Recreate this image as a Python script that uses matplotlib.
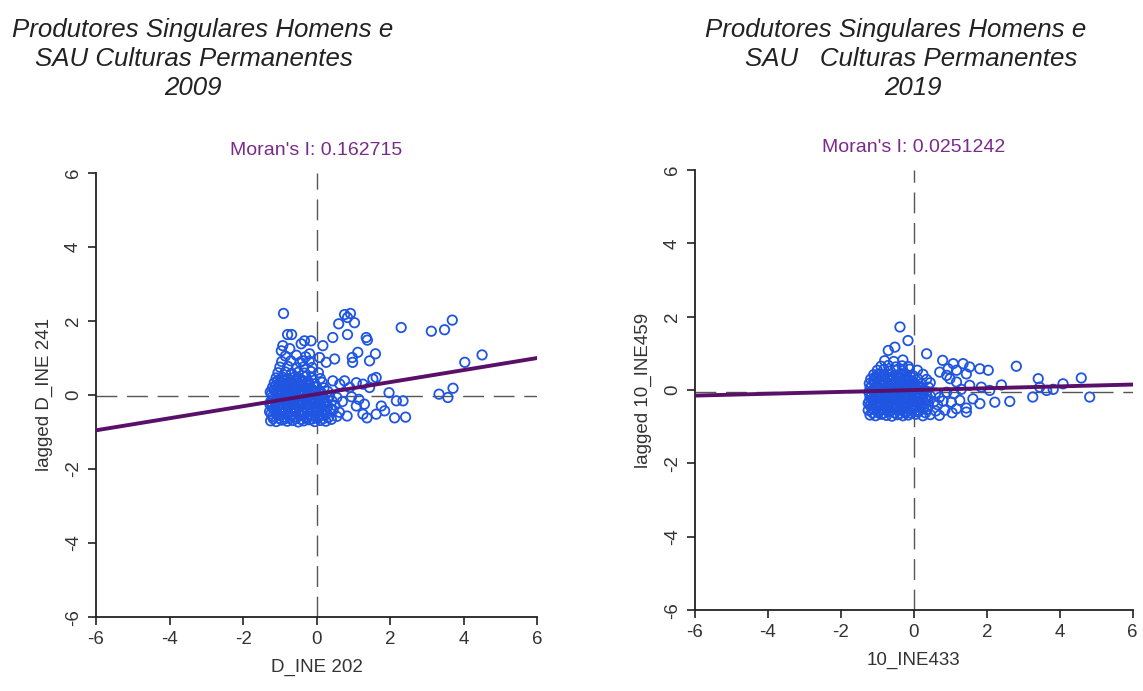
import numpy as np
import matplotlib
matplotlib.use("Agg")
import matplotlib.pyplot as plt

plt.rcParams['font.family'] = ['Liberation Sans', 'DejaVu Sans']
plt.rcParams['axes.unicode_minus'] = False

# Moran scatter data (standardised value, spatial lag)
pts_2009 = [
    # sparse upper points
    (-0.90, 2.20), (0.76, 2.17), (0.92, 2.20), (0.84, 2.09), (1.03, 1.95), (0.60, 1.92),
    (2.30, 1.82), (3.12, 1.72), (3.48, 1.76), (3.69, 2.02),
    (-0.79, 1.63), (-0.68, 1.63), (0.44, 1.55), (0.84, 1.63), (1.35, 1.55), (1.38, 1.48),
    (-0.33, 1.46), (-0.15, 1.46), (-0.42, 1.38), (-0.96, 1.19), (-0.73, 1.25), (-0.92, 1.33),
    (0.17, 1.33), (1.12, 1.15), (1.60, 1.11), (0.97, 1.01), (0.98, 0.88), (1.44, 0.92),
    (0.49, 0.97), (4.03, 0.88), (4.50, 1.08), (-0.19, 1.11), (0.08, 1.01), (0.26, 0.88),
    (-0.38, 0.92),
    # right tail near zero
    (3.33, 0.02), (3.57, -0.07), (3.71, 0.18),
    (2.35, -0.16), (2.12, -0.62), (2.42, -0.60), (1.97, 0.06), (2.17, -0.16), (1.76, -0.30),
    (1.85, -0.43), (1.62, -0.52), (1.37, -0.62), (1.26, -0.52), (1.08, -0.30), (0.83, -0.57),
    (1.53, 0.43), (1.62, 0.47), (1.26, 0.29), (1.08, 0.33), (1.44, 0.20), (0.90, 0.20),
    (0.76, 0.38), (0.63, 0.29), (0.44, 0.38), (1.15, -0.12), (0.95, -0.05), (1.30, -0.25),
    # dense cluster
    (-1.25, -0.70), (-1.10, -0.72), (-0.95, -0.68), (-0.80, -0.71), (-0.65, -0.69), (-0.50, -0.73),
    (-0.35, -0.70), (-0.20, -0.67), (-0.05, -0.72), (0.10, -0.69), (0.25, -0.71), (0.40, -0.66),
    (-1.20, -0.58), (-1.05, -0.55), (-0.90, -0.60), (-0.72, -0.57), (-0.58, -0.59), (-0.42, -0.56),
    (-0.28, -0.60), (-0.12, -0.57), (0.02, -0.58), (0.18, -0.55), (0.33, -0.60), (0.55, -0.58),
    (-1.28, -0.45), (-1.12, -0.43), (-0.98, -0.47), (-0.85, -0.44), (-0.70, -0.46), (-0.55, -0.42),
    (-0.40, -0.45), (-0.25, -0.47), (-0.10, -0.43), (0.05, -0.46), (0.22, -0.44), (0.45, -0.41),
    (0.62, -0.47),
    (-1.22, -0.32), (-1.05, -0.30), (-0.90, -0.34), (-0.75, -0.31), (-0.62, -0.33), (-0.48, -0.29),
    (-0.33, -0.32), (-0.18, -0.35), (-0.03, -0.30), (0.12, -0.33), (0.30, -0.31), (0.50, -0.28),
    (-1.25, -0.18), (-1.10, -0.20), (-0.95, -0.16), (-0.80, -0.19), (-0.66, -0.17), (-0.52, -0.21),
    (-0.38, -0.18), (-0.22, -0.15), (-0.08, -0.19), (0.08, -0.17), (0.25, -0.20), (0.42, -0.16),
    (0.70, -0.18),
    (-1.20, -0.05), (-1.03, -0.03), (-0.88, -0.07), (-0.73, -0.04), (-0.58, -0.06), (-0.43, -0.02),
    (-0.28, -0.05), (-0.14, -0.08), (0.02, -0.04), (0.18, -0.06), (0.35, -0.03), (0.55, -0.07),
    (-1.26, 0.08), (-1.10, 0.10), (-0.95, 0.06), (-0.80, 0.09), (-0.65, 0.07), (-0.50, 0.11),
    (-0.35, 0.08), (-0.20, 0.05), (-0.05, 0.09), (0.12, 0.07), (0.30, 0.10),
    (-1.20, 0.20), (-1.05, 0.22), (-0.90, 0.18), (-0.75, 0.21), (-0.60, 0.19), (-0.45, 0.23),
    (-0.30, 0.20), (-0.15, 0.17), (0.00, 0.21), (0.20, 0.19),
    (-1.15, 0.33), (-0.98, 0.35), (-0.83, 0.31), (-0.68, 0.34), (-0.52, 0.32), (-0.38, 0.36),
    (-0.22, 0.33), (-0.05, 0.30), (0.15, 0.34),
    (-1.10, 0.46), (-0.93, 0.48), (-0.78, 0.44), (-0.62, 0.47), (-0.47, 0.45), (-0.30, 0.49),
    (-0.12, 0.46), (0.10, 0.44),
    (-1.05, 0.60), (-0.85, 0.62), (-0.68, 0.58), (-0.50, 0.61), (-0.33, 0.59), (-0.15, 0.63),
    (0.05, 0.60),
    (-1.00, 0.75), (-0.78, 0.77), (-0.55, 0.73), (-0.35, 0.76), (-0.12, 0.74),
    (-0.95, 0.90), (-0.70, 0.92), (-0.45, 0.88), (-0.20, 0.91),
    (-0.85, 1.05), (-0.55, 1.07), (-0.30, 1.03),
    # core, second layer
    (-1.18, -0.64), (-1.02, -0.63), (-0.87, -0.65), (-0.72, -0.62), (-0.57, -0.64), (-0.42, -0.66),
    (-0.27, -0.63), (-0.12, -0.65), (0.03, -0.62), (0.18, -0.64),
    (-1.24, -0.51), (-1.08, -0.50), (-0.93, -0.52), (-0.78, -0.49), (-0.63, -0.51), (-0.48, -0.53),
    (-0.33, -0.50), (-0.18, -0.52), (-0.03, -0.49), (0.12, -0.51), (0.28, -0.50),
    (-1.16, -0.38), (-1.00, -0.37), (-0.85, -0.39), (-0.70, -0.36), (-0.55, -0.38), (-0.40, -0.40),
    (-0.25, -0.37), (-0.10, -0.39), (0.05, -0.36), (0.20, -0.38), (0.38, -0.37),
    (-1.27, -0.25), (-1.12, -0.24), (-0.97, -0.26), (-0.82, -0.23), (-0.67, -0.25), (-0.52, -0.27),
    (-0.37, -0.24), (-0.22, -0.26), (-0.07, -0.23), (0.08, -0.25), (0.22, -0.24),
    (-1.17, -0.11), (-1.02, -0.10), (-0.87, -0.12), (-0.72, -0.09), (-0.57, -0.11), (-0.42, -0.13),
    (-0.27, -0.10), (-0.12, -0.12), (0.03, -0.09), (0.18, -0.11),
    (-1.23, 0.02), (-1.08, 0.03), (-0.93, 0.01), (-0.78, 0.04), (-0.63, 0.02), (-0.48, 0.00),
    (-0.33, 0.03), (-0.18, 0.01), (-0.03, 0.04), (0.12, 0.02),
    (-1.15, 0.14), (-1.00, 0.15), (-0.85, 0.13), (-0.70, 0.16), (-0.55, 0.14), (-0.40, 0.12),
    (-0.25, 0.15), (-0.10, 0.13),
    (-1.10, 0.27), (-0.95, 0.28), (-0.80, 0.26), (-0.65, 0.29), (-0.50, 0.27), (-0.35, 0.25),
    (-0.20, 0.28),
    (-1.05, 0.40), (-0.88, 0.41), (-0.72, 0.39), (-0.56, 0.42), (-0.40, 0.40), (-0.24, 0.38),
]

pts_2019 = [
    # sparse points
    (-0.38, 1.72), (-0.16, 1.35), (-0.70, 1.08), (-0.52, 1.17), (0.35, 0.99),
    (0.79, 0.81), (1.08, 0.72), (1.35, 0.72), (1.53, 0.63), (1.81, 0.58), (2.04, 0.54),
    (2.81, 0.65), (3.41, 0.31), (4.59, 0.33), (4.82, -0.19), (3.26, -0.19),
    (4.09, 0.17), (3.82, 0.02), (3.64, -0.01), (3.45, 0.08),
    (2.40, 0.14), (2.08, -0.01), (1.85, 0.08), (1.53, 0.13),
    (2.22, -0.33), (2.63, -0.31), (1.81, -0.37), (1.44, -0.49), (1.62, -0.24), (1.26, -0.28),
    (1.17, -0.51), (1.44, -0.60), (1.03, -0.33),
    (1.17, 0.22), (0.99, 0.31), (0.90, 0.40), (0.71, 0.49), (0.94, 0.58), (1.17, 0.54),
    (1.44, 0.44), (1.10, -0.10), (1.30, 0.02), (1.05, -0.62),
    # dense cluster
    (-1.20, -0.68), (-1.05, -0.70), (-0.90, -0.66), (-0.75, -0.69), (-0.60, -0.71), (-0.45, -0.67),
    (-0.30, -0.70), (-0.15, -0.68), (0.05, -0.66), (0.25, -0.70), (0.45, -0.67), (0.70, -0.69),
    (-1.25, -0.55), (-1.10, -0.53), (-0.95, -0.57), (-0.80, -0.54), (-0.65, -0.56), (-0.50, -0.52),
    (-0.35, -0.55), (-0.20, -0.58), (-0.05, -0.54), (0.15, -0.56), (0.35, -0.53), (0.60, -0.57),
    (0.85, -0.55),
    (-1.20, -0.42), (-1.05, -0.44), (-0.90, -0.40), (-0.75, -0.43), (-0.60, -0.41), (-0.45, -0.45),
    (-0.30, -0.42), (-0.15, -0.39), (0.00, -0.43), (0.20, -0.41), (0.40, -0.44), (0.65, -0.40),
    (-1.22, -0.30), (-1.08, -0.28), (-0.93, -0.32), (-0.78, -0.29), (-0.63, -0.31), (-0.48, -0.27),
    (-0.33, -0.30), (-0.18, -0.33), (-0.02, -0.29), (0.18, -0.31), (0.38, -0.28), (0.55, -0.32),
    (0.80, -0.30),
    (-1.20, -0.18), (-1.05, -0.16), (-0.90, -0.20), (-0.75, -0.17), (-0.60, -0.19), (-0.45, -0.15),
    (-0.30, -0.18), (-0.15, -0.21), (0.05, -0.17), (0.25, -0.19), (0.45, -0.16), (0.70, -0.20),
    (-1.23, -0.06), (-1.08, -0.04), (-0.93, -0.08), (-0.78, -0.05), (-0.63, -0.07), (-0.48, -0.03),
    (-0.33, -0.06), (-0.18, -0.09), (-0.02, -0.05), (0.15, -0.07), (0.35, -0.04), (0.60, -0.08),
    (0.90, -0.06),
    (-1.20, 0.06), (-1.05, 0.08), (-0.90, 0.04), (-0.75, 0.07), (-0.60, 0.05), (-0.45, 0.09),
    (-0.30, 0.06), (-0.15, 0.03), (0.02, 0.07), (0.20, 0.05), (0.40, 0.08),
    (-1.22, 0.18), (-1.07, 0.20), (-0.92, 0.16), (-0.77, 0.19), (-0.62, 0.17), (-0.47, 0.21),
    (-0.32, 0.18), (-0.17, 0.15), (0.00, 0.19), (0.20, 0.17), (0.45, 0.20),
    (-1.18, 0.30), (-1.02, 0.32), (-0.87, 0.28), (-0.72, 0.31), (-0.57, 0.29), (-0.42, 0.33),
    (-0.27, 0.30), (-0.10, 0.27), (0.10, 0.31), (0.35, 0.29),
    (-1.10, 0.42), (-0.95, 0.44), (-0.80, 0.40), (-0.65, 0.43), (-0.50, 0.41), (-0.35, 0.45),
    (-0.20, 0.42), (-0.02, 0.39), (0.25, 0.43),
    (-1.00, 0.54), (-0.82, 0.56), (-0.65, 0.52), (-0.48, 0.55), (-0.30, 0.53), (-0.12, 0.57),
    (0.10, 0.54),
    (-0.90, 0.65), (-0.70, 0.67), (-0.50, 0.63), (-0.32, 0.66), (-0.15, 0.64),
    (-0.80, 0.80), (-0.55, 0.78), (-0.30, 0.82),
    # core, second layer
    (-1.13, -0.62), (-0.98, -0.61), (-0.83, -0.63), (-0.68, -0.60), (-0.53, -0.62), (-0.38, -0.64),
    (-0.23, -0.61), (-0.07, -0.63), (0.12, -0.60), (0.32, -0.62),
    (-1.15, -0.49), (-1.00, -0.48), (-0.85, -0.50), (-0.70, -0.47), (-0.55, -0.49), (-0.40, -0.51),
    (-0.25, -0.48), (-0.10, -0.50), (0.08, -0.47), (0.27, -0.49),
    (-1.25, -0.36), (-1.12, -0.35), (-0.97, -0.37), (-0.82, -0.34), (-0.67, -0.36), (-0.52, -0.38),
    (-0.37, -0.35), (-0.22, -0.37), (-0.07, -0.34), (0.10, -0.36), (0.30, -0.35),
    (-1.13, -0.24), (-0.98, -0.23), (-0.83, -0.25), (-0.68, -0.22), (-0.53, -0.24), (-0.38, -0.26),
    (-0.23, -0.23), (-0.08, -0.25), (0.12, -0.22), (0.32, -0.24),
    (-1.15, -0.12), (-1.00, -0.11), (-0.85, -0.13), (-0.70, -0.10), (-0.55, -0.12), (-0.40, -0.14),
    (-0.25, -0.11), (-0.10, -0.13), (0.08, -0.10), (0.26, -0.12),
    (-1.13, 0.00), (-0.98, 0.01), (-0.83, -0.01), (-0.68, 0.02), (-0.53, 0.00), (-0.38, -0.02),
    (-0.23, 0.01), (-0.08, -0.01), (0.10, 0.02), (0.28, 0.00),
    (-1.15, 0.12), (-1.00, 0.13), (-0.85, 0.11), (-0.70, 0.14), (-0.55, 0.12), (-0.40, 0.10),
    (-0.25, 0.13), (-0.08, 0.11), (0.10, 0.12),
    (-1.10, 0.24), (-0.95, 0.25), (-0.80, 0.23), (-0.65, 0.26), (-0.50, 0.24), (-0.35, 0.22),
    (-0.20, 0.25), (-0.03, 0.23),
    (-1.05, 0.36), (-0.88, 0.37), (-0.72, 0.35), (-0.56, 0.38), (-0.40, 0.36), (-0.24, 0.34),
    (-0.08, 0.37),
]

moran_i = [0.162715, 0.0251242]
intercepts = [0.02, 0.0]
lag_means = [-0.03, -0.05]
x_labels = ["D_INE 202", "10_INE433"]
y_labels = ["lagged D_INE 241", "lagged 10_INE459"]
moran_text = ["Moran's I: 0.162715", "Moran's I: 0.0251242"]
ticks = [-6, -4, -2, 0, 2, 4, 6]

fig = plt.figure(figsize=(11.43, 6.91), dpi=100)
axes = [fig.add_axes([0.084, 0.107, 0.386, 0.643]),
        fig.add_axes([0.608, 0.117, 0.383, 0.637])]

point_color = '#1f55e0'
line_color = '#5a0f68'

for i, (ax, pts) in enumerate(zip(axes, [pts_2009, pts_2019])):
    pts = np.array(pts)
    ax.axvline(0, color='#555555', lw=1, dashes=(15, 7), zorder=1)
    ax.axhline(lag_means[i], color='#555555', lw=1, dashes=(15, 7), zorder=1)
    ax.scatter(pts[:, 0], pts[:, 1], s=46, facecolors='none', edgecolors=point_color,
               linewidths=1.3, zorder=2)
    xs = np.array([-6, 6])
    ax.plot(xs, intercepts[i] + moran_i[i] * xs, color=line_color, lw=2.8, zorder=3)
    ax.set_xlim(-6, 6)
    ax.set_ylim(-6, 6)
    ax.set_xticks(ticks)
    ax.set_yticks(ticks)
    for s in ['top', 'right']:
        ax.spines[s].set_visible(False)
    for s in ['left', 'bottom']:
        ax.spines[s].set_color('#222222')
        ax.spines[s].set_linewidth(1.3)
    ax.tick_params(direction='out', length=6, width=1.2, color='#222222',
                   labelsize=13.5, labelcolor='#333333', pad=4)
    for lab in ax.get_yticklabels():
        lab.set_rotation(90)
        lab.set_va('center')
    ax.set_xlabel(x_labels[i], fontsize=13.5, color='#333333', labelpad=8)
    ax.set_ylabel(y_labels[i], fontsize=13.5, color='#333333', labelpad=9)
    ax.set_title(moran_text[i], fontsize=14, color='#7a2a8a', pad=13)

# titles
title_style = dict(fontsize=18.6, style='italic', color='#222222', ha='center', va='baseline')
fig.text(203 / 1143, 1 - 37 / 691, "Produtores Singulares Homens e", **title_style)
fig.text(194 / 1143, 1 - 66 / 691, "SAU Culturas Permanentes", **title_style)
fig.text(193 / 1143, 1 - 95 / 691, "2009", **title_style)
fig.text(896 / 1143, 1 - 37 / 691, "Produtores Singulares Homens e", **title_style)
fig.text(911 / 1143, 1 - 66 / 691, "SAU   Culturas Permanentes", **title_style)
fig.text(913 / 1143, 1 - 95 / 691, "2019", **title_style)

fig.savefig("out.png", dpi=100)
